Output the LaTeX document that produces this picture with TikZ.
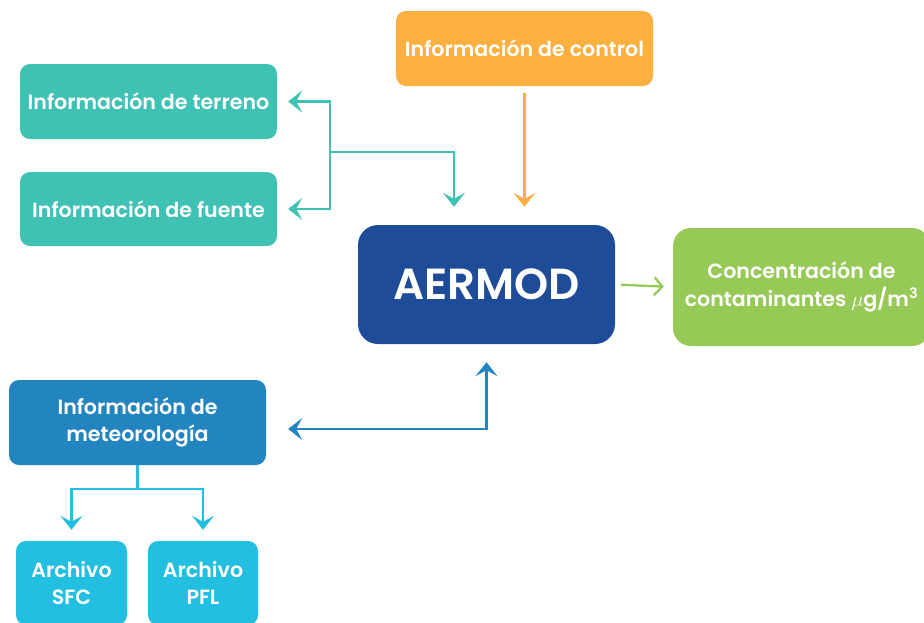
\documentclass[tikz,border=0pt]{standalone}
\usepackage{fontspec}
\setmainfont{Poppins}[BoldFont={Poppins SemiBold}]
\usetikzlibrary{arrows.meta,calc}
\definecolor{cteal}{HTML}{3FC1B4}
\definecolor{corange}{HTML}{FBB040}
\definecolor{cdark}{HTML}{1F4C99}
\definecolor{cgreen}{HTML}{97C957}
\definecolor{cblue}{HTML}{2385C0}
\definecolor{ccyan}{HTML}{23BFE0}
\tikzset{
  box/.style={rectangle, rounded corners=10pt, text=white, align=center,
    font=\fontsize{20.6}{27.5}\selectfont\bfseries, inner sep=0pt},
  conn/.style={line width=2.3pt, -{Stealth[length=14pt,width=22pt,inset=6pt]}},
}
\begin{document}
\begin{tikzpicture}[x=1pt,y=-1pt]
\useasboundingbox (0,0) rectangle (924,622);
\clip (0,0) rectangle (924,622);
% nodes
\node[box, fill=corange, minimum width=257pt, minimum height=75pt] (control) at (524.5,48.5) {Información de control};
\node[box, fill=cteal, minimum width=257pt, minimum height=75pt] (terreno) at (148.5,101.5) {Información de terreno};
\node[box, fill=cteal, minimum width=257pt, minimum height=74pt] (fuente) at (148.5,209) {Información de fuente};
\node[box, fill=cdark, rounded corners=20pt, minimum width=257pt, minimum height=119pt,
  font=\fontsize{43.5}{45}\selectfont\bfseries] (aermod) at (486.5,284.5) {AERMOD};
\node[box, fill=cgreen, rounded corners=18pt, minimum width=257pt, minimum height=118pt] (conc) at (801.5,287) {Concentración de\\contaminantes $\mu$g/m\textsuperscript{3}};
\node[box, fill=cblue, minimum width=257pt, minimum height=85pt] (meteo) at (137.5,422.5) {Información de\\meteorología};
\node[box, fill=ccyan, minimum width=111pt, minimum height=84pt] (sfc) at (71.5,583) {Archivo\\SFC};
\node[box, fill=ccyan, minimum width=110pt, minimum height=84pt] (pfl) at (203,583) {Archivo\\PFL};
% coordinates
\coordinate (j1) at (330,152);
\coordinate (tA) at ([xshift=-32.5pt]aermod.north);
\coordinate (c1) at ([yshift=-24pt]meteo.south);
% teal
\draw[conn, cteal, shorten >=11pt] (j1) |- (terreno.east);
\draw[conn, cteal, shorten >=11pt] (j1) |- (fuente.east);
\draw[conn, cteal, shorten >=18pt] (j1) -| (tA);
% orange
\draw[conn, corange, shorten <=7pt, shorten >=18pt] (control.south) -- (control.south |- aermod.north);
% green
\draw[line width=2.3pt, cgreen, -{Straight Barb[length=8pt,width=18pt]}, shorten <=6pt, shorten >=9pt] (aermod.east) -- (conc.west);
% blue
\draw[line width=2.3pt, cblue, {Stealth[length=14pt,width=22pt,inset=6pt]}-{Stealth[length=14pt,width=22pt,inset=6pt]}, shorten <=22pt, shorten >=18pt] ([yshift=-6.5pt]meteo.east) -| (aermod.south);
% cyan
\draw[line width=2.3pt, ccyan] (meteo.south) -- (c1);
\draw[conn, ccyan, shorten >=11pt] (c1) -| (sfc.north);
\draw[conn, ccyan, shorten >=11pt] (c1) -| (pfl.north);
\end{tikzpicture}
\end{document}
